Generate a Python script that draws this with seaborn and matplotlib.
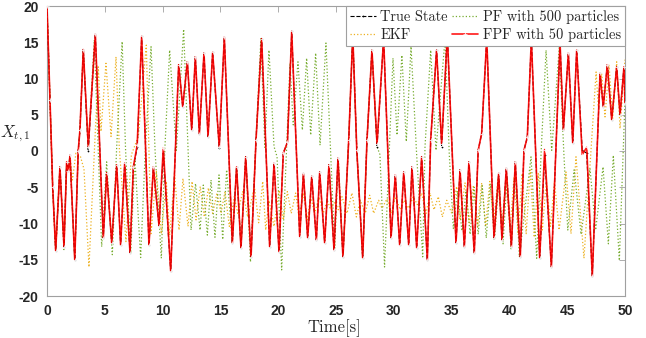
"""
plot.py
Lorenz state X_{t,1}: true state vs EKF, PF and FPF estimates
"""

import matplotlib
matplotlib.use('Agg')
import matplotlib.pyplot as plt
import seaborn as sns

# ---- data (time [s], value) ----
true_t = [0.0, 0.26, 0.49, 0.75, 1.12, 1.47, 1.7, 1.85, 1.99, 2.4, 2.7, 2.85, 3.14, 3.57, 4.18,
          4.87, 5.16, 5.6, 6.03, 6.37, 6.72, 7.18, 7.47, 7.8, 8.19, 8.82, 9.2, 9.69, 10.06, 10.7,
          11.39, 11.74, 12.14, 12.52, 12.83, 13.18, 13.58, 13.93, 14.33, 14.9, 15.34, 16.03, 16.4,
          16.78, 17.19, 17.65, 18.08, 18.57, 19.26, 19.64, 20.07, 20.44, 20.8, 21.17, 21.86, 22.18,
          22.55, 22.9, 23.3, 23.59, 24.02, 24.39, 24.83, 25.17, 25.6, 26.1, 26.45, 26.8, 27.31,
          27.68, 28.11, 28.55, 29.12, 29.76, 30.13, 30.51, 30.86, 31.29, 31.57, 31.98, 32.41, 32.9,
          33.19, 33.7, 34.14, 34.63, 35.38, 35.73, 36.1, 36.5, 36.96, 37.3, 37.6, 38.04, 38.67,
          39.07, 39.36, 39.73, 40.17, 40.51, 40.94, 41.26, 41.55, 41.9, 42.62, 43.05, 43.63, 44.38,
          44.67, 45.1, 45.48, 45.82, 46.3, 46.69, 47.17, 47.84, 48.12, 48.47, 48.85, 49.28, 49.57,
          49.91, 50.0]
true_x = [20.0, 7.0, -4.9, -13.75, -2.2, -13.2, -1.5, -2.8, -0.6, -15.0, 0.0, 2.9, 14.0, 0.0, 16.1,
          -12.0, -3.0, -12.7, -1.9, -13.0, -1.7, -14.0, -2.2, 0.5, 15.8, -13.0, -2.2, -10.3, -0.3, -16.6,
          11.9, 6.1, 12.3, 2.9, 13.0, 2.4, 13.5, 2.0, 13.6, 0.4, 15.7, -12.7, -2.2,
          -13.4, -0.8, -14.6, 1.5, 15.5, -13.2, -1.7, -13.9, -0.3, 1.2, 16.5, -11.8, -3.1,
          -12.0, -3.5, -12.3, -2.9, -12.7, -1.9, -13.7, -1.0, -14.6, 1.5, 16.0, 0.1, -14.8,
          1.5, 13.9, 0.6, 15.5, -12.0, -3.3, -13.0, -2.9, -13.0, -2.2, -13.4, -0.8, -15.0,
          1.5, 13.9, 0.6, 16.0, -12.7, -2.6, -13.2, -1.5, -14.1, 0.1, 2.4, 15.5, -12.0,
          -3.1, -12.3, -2.4, -13.2, -1.5, -14.6, 0.1, 1.9, 15.5, -14.8, -0.6, -16.0, 15.0,
          2.9, 13.5, 1.1, 13.9, 0.1, -0.3, -17.3, 10.7, 6.1, 11.9, 4.3, 11.6, 5.0,
          11.6, 6.6]

# FPF with 50 particles sits on the true state except for a few small offsets
fpf_t = list(true_t)
fpf_x = [20.0, 7.0, -4.9, -13.75, -2.2, -13.2, -1.5, -2.8, -0.6, -15.0, 0.0, 2.9, 14.0, 0.6, 16.1,
         -12.0, -3.0, -12.7, -1.9, -13.0, -1.7, -14.0, -2.2, 0.8, 15.8, -13.0, -2.2, -10.3, 0.4, -16.6,
         11.9, 6.1, 12.3, 2.9, 13.0, 2.4, 13.5, 2.0, 13.6, 0.6, 15.7, -12.7, -2.2,
         -13.4, -0.8, -14.6, 1.5, 15.5, -13.2, -1.7, -13.9, -0.3, 1.2, 16.5, -11.8, -3.1,
         -12.0, -3.5, -12.3, -2.9, -12.7, -1.9, -13.7, -1.0, -14.6, 1.5, 16.0, 0.1, -14.8,
         1.5, 13.9, 1.0, 15.5, -12.0, -3.3, -13.0, -2.9, -13.0, -2.2, -13.4, -0.8, -15.0,
         1.5, 13.9, 1.0, 16.0, -12.7, -2.6, -13.2, -1.5, -14.1, 0.1, 2.4, 15.5, -12.0,
         -3.1, -12.3, -2.4, -13.2, -1.5, -14.6, 0.1, 1.9, 15.5, -14.8, 0.2, -16.0, 15.0,
         2.9, 13.5, 1.1, 13.9, -0.5, 0.5, -17.3, 10.7, 6.1, 11.9, 4.3, 11.6, 5.0,
         11.6, 6.6]

ekf_t = [0.0, 0.26, 0.49, 0.75, 1.12, 1.47, 1.7, 1.85, 1.99, 2.2, 2.5, 2.9, 3.2, 3.63, 4.44,
         4.67, 5.1, 5.54, 5.97, 6.25, 6.83, 7.3, 7.9, 8.59, 9.0, 9.46, 9.89, 10.32, 10.61, 11.04,
         11.42, 11.76, 12.2, 12.55, 12.89, 13.26, 13.61, 13.96, 14.33, 14.71, 15.05, 15.4, 15.77,
         16.2, 16.5, 16.93, 17.36, 17.94, 18.31, 18.66, 18.92, 19.2, 19.64, 20.07, 20.44, 20.79,
         21.13, 21.51, 21.8, 22.17, 22.52, 22.81, 23.16, 23.53, 23.9, 24.25, 24.54, 24.9, 25.2,
         25.52, 25.95, 26.38, 26.76, 27.1, 27.53, 27.91, 28.26, 28.69, 28.98, 29.41, 29.79, 30.13,
         30.56, 30.86, 31.29, 31.69, 32.03, 32.41, 32.79, 33.13, 33.48, 33.85, 34.2, 34.58, 35.01,
         35.44, 35.73, 36.16, 36.53, 36.88, 37.26, 37.6, 37.95, 38.3, 38.65, 39.0, 39.35, 39.7,
         40.05, 40.4, 40.75, 41.1, 41.45, 41.8, 42.15, 42.5, 42.85, 43.2, 43.55, 43.9, 44.3,
         44.9, 45.33, 45.76, 46.45, 47.5, 47.69, 47.98, 48.27, 48.62, 48.93, 49.28, 49.57, 50.0]
ekf_x = [20.0, 7.0, -4.9, -13.75, -2.2, -13.2, -1.5, -2.8, -0.6, -4.0, -0.3, -0.8, -2.5, -16.0, 11.6,
         2.7, 12.1, 2.0, 13.0, 0.5, -12.5, -0.5, 2.0, 14.6, -11.4, -2.8, -11.4, -4.2, -11.6, -3.3,
         -10.9, -3.8, -10.4, -4.2, -9.5, -4.9, -9.1, -5.1, -8.6, -5.8, -8.6, -5.6, -10.4,
         -6.3, -8.6, -5.6, -9.1, -4.9, -9.9, -4.2, -10.9, -6.8, -10.4, -5.4, -9.5, -5.6,
         -8.6, -5.8, -9.1, -5.8, -9.5, -6.3, -8.6, -6.3, -8.6, -6.8, -8.1, -7.0, -8.1,
         -6.3, -8.6, -5.8, -9.1, -6.8, -8.6, -6.1, -8.6, -6.8, -7.9, -6.6, -8.6, -6.3,
         -8.1, -6.8, -7.9, -6.3, -7.4, -5.8, -8.6, -5.8, -8.1, -6.3, -9.1, -6.8, -8.6,
         -4.9, -9.5, -4.4, -9.9, -4.9, -10.4, -4.4, -10.4, -4.2, -9.8, -4.0, -10.4, -3.8,
         -10.9, -3.6, -11.4, -3.1, -11.4, -2.6, -11.9, -3.1, -10.9, -4.0, -10.4, -4.2, -10.9,
         -2.9, -11.4, -0.8, -14.8, 10.9, 6.1, 10.7, 4.7, 11.9, 4.5, 12.3, 3.1, 12.6]

pf_t = [0.0, 0.26, 0.49, 0.75, 1.12, 1.47, 1.7, 1.85, 1.99, 2.4, 2.7, 2.85, 3.14, 3.57, 4.09,
        4.73, 5.16, 5.65, 6.03, 6.5, 6.8, 7.24, 7.6, 8.1, 8.5, 9.0, 9.35, 9.89, 10.2, 10.61,
        11.19, 11.82, 12.46, 12.85, 13.24, 13.52, 13.87, 14.19, 14.53, 14.88, 15.2, 15.54, 16.03,
        16.4, 16.78, 17.19, 17.6, 18.08, 18.5, 18.85, 19.2, 19.64, 19.9, 20.3, 21.02, 21.3,
        21.71, 22.09, 22.46, 22.81, 23.24, 23.62, 24.13, 24.89, 25.2, 25.6, 26.1, 26.45, 26.8,
        27.31, 27.68, 28.11, 28.55, 28.8, 29.2, 29.93, 30.28, 30.7, 31.08, 31.49, 31.98, 32.5,
        32.7, 33.19, 33.65, 34.43, 34.8, 35.15, 35.5, 35.9, 36.25, 36.6, 36.95, 37.3, 37.65,
        38.0, 38.35, 38.7, 39.1, 39.45, 39.8, 40.15, 40.5, 40.86, 41.87, 42.36, 42.75, 43.17,
        43.66, 44.32, 44.7, 45.05, 45.6, 46.2, 46.97, 47.46, 48.1, 48.56, 48.99, 49.51, 50.0]
pf_x = [20.0, 7.0, -4.9, -13.75, -2.2, -13.6, -1.5, -2.8, -0.6, -15.0, 0.0, 2.9, 14.0, 0.4, 15.3,
        -13.2, -1.5, -14.3, 0.6, 15.1, 0.0, -14.1, -1.0, -14.7, 0.0, 14.4, 0.0, -14.8, 0.5, 13.9,
        0.1, 16.8, -10.9, -4.5, -10.9, -4.7, -11.6, -4.0, -11.9, -3.3, -12.2, -2.6, -12.7,
        -2.2, -13.4, -0.8, -15.3, 1.5, 15.5, 0.5, 13.9, 0.6, -0.8, -16.4, 12.1, 3.6,
        12.3, 2.9, 12.8, 2.2, 13.5, 0.8, 14.9, -13.4, -1.0, -14.6, 1.5, 16.0, 0.1,
        -14.8, 1.5, 13.9, 0.6, -0.5, -16.0, 12.8, 2.2, 13.2, 1.3, 14.4, -0.6, -14.6,
        0.6, 13.9, 0.1, 15.5, -0.5, -10.7, -5.5, -11.0, -5.5, -11.5, -5.0, -11.5, -4.8,
        -12.0, -4.5, -12.3, -4.0, -12.8, -3.5, -13.5, -2.5, -14.6, -0.8, -14.8, 0.0, 13.9,
        0.1, 14.4, 0.0, -10.9, -2.6, -11.5, -2.4, -10.9, -2.2, -12.8, -0.6, -15.1, 7.0]

x_ticks = list(range(0, 51, 5))
y_ticks = list(range(-20, 21, 5))

sns.set_style('white')
plt.rcParams['axes.unicode_minus'] = False
plt.rcParams['mathtext.fontset'] = 'cm'
plt.rcParams['font.family'] = ['Liberation Sans', 'DejaVu Sans']

fig = plt.figure(figsize=(6.46, 3.38), dpi=100)
ax = fig.add_axes([47 / 646, 1 - 296 / 338, 578 / 646, 290 / 338])

sns.lineplot(x=true_t, y=true_x, ax=ax, sort=False, color='black', linestyle='--',
             linewidth=0.8, marker='.', markersize=2.5, markeredgewidth=0,
             label='True State', zorder=3)
sns.lineplot(x=ekf_t, y=ekf_x, ax=ax, sort=False, color='#EDB120', linestyle=':',
             linewidth=0.9, label='EKF', zorder=2)
sns.lineplot(x=pf_t, y=pf_x, ax=ax, sort=False, color='#77AC30', linestyle=':',
             linewidth=0.9, label='PF with 500 particles', zorder=2)
sns.lineplot(x=fpf_t, y=fpf_x, ax=ax, sort=False, color='red', linestyle='-',
             linewidth=1.2, marker='+', markersize=3, markeredgewidth=0.6, alpha=0.9,
             label='FPF with 50 particles', zorder=5)

ax.set_xlim(0, 50)
ax.set_ylim(-20, 20)
ax.set_xticks(x_ticks)
ax.set_yticks(y_ticks)
ax.tick_params(direction='in', length=4, width=0.6, color='#a0a0a0',
               top=True, right=True, labelsize=10, labelcolor='#262626', pad=6)
for lab in ax.get_xticklabels() + ax.get_yticklabels():
    lab.set_fontweight('bold')
for sp in ax.spines.values():
    sp.set_color('#a0a0a0')
    sp.set_linewidth(0.8)

ax.set_xlabel('Time[s]', family='cmr10', fontsize=12, color='#262626', labelpad=0)
ax.xaxis.set_label_coords(0.497, -0.08)
ax.set_ylabel('$X_{t,1}$', fontsize=12, rotation=0, color='#262626',
              ha='center', va='center')
ax.yaxis.set_label_coords(-0.055, 0.56)

leg = ax.legend(loc='upper right', ncol=2, fancybox=False, framealpha=1,
                edgecolor='#a0a0a0', borderaxespad=0, handlelength=1.8,
                handletextpad=0.3, columnspacing=0.3, labelspacing=0.25,
                borderpad=0.3, prop={'family': 'cmr10', 'size': 10.4})
leg.get_frame().set_linewidth(0.8)

plt.savefig('out.png', dpi=100)
plt.close()
